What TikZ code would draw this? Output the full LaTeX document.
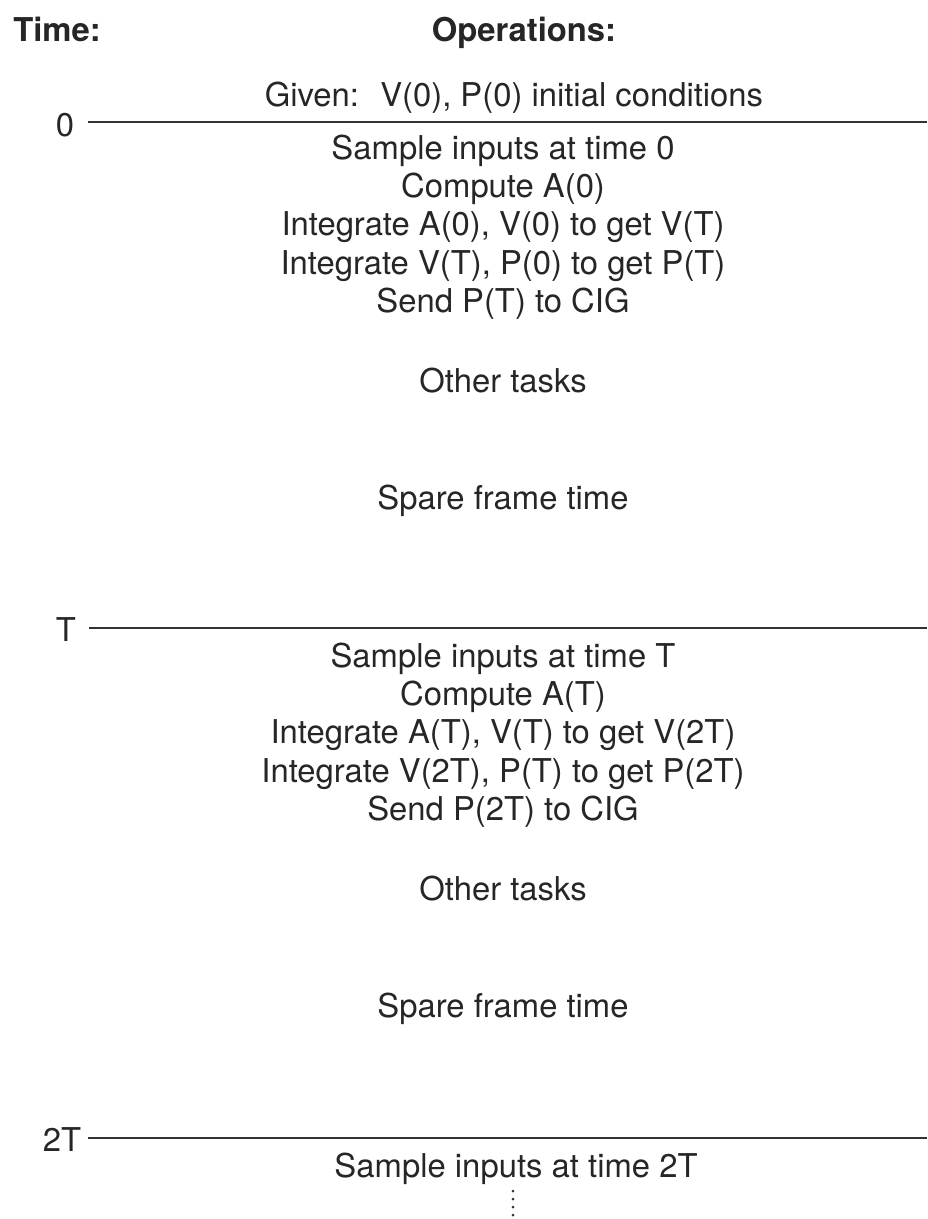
\documentclass[tikz,border=0pt]{standalone}
\usepackage{fontspec}
\setmainfont{TeX Gyre Heros}
\usetikzlibrary{positioning}

\begin{document}
\begin{tikzpicture}[
    x=0.5pt, y=-0.5pt,
    node distance=2.35pt,
    optext/.style={inner sep=0pt, text height=12.3pt, text depth=4.1pt, font=\fontsize{16.4}{19}\selectfont, text=black!85},
    head/.style={optext, font=\fontsize{16.4}{19}\selectfont\bfseries},
    tick/.style={optext},
    rule/.style={line width=1pt, draw=black!80},
    dotline/.style={line width=1.5pt, line cap=round, dash pattern=on 0pt off 4pt, draw=black!80},
  ]
  \useasboundingbox (0,0) rectangle (927,1219);
  % headings
  \node[head] (timehd) at (57,33) {Time:};
  \node[head] (ophd) at (524,33) {Operations:};
  \node[optext] (given) at (514,98) {Given:~ V(0), P(0) initial conditions};
  % time marks
  \node[tick] (t0) at (65,128) {0};
  \node[tick] (t1) at (66,633) {T};
  \node[tick] (t2) at (62,1143) {2T};
  \coordinate (r0a) at (88,122);  \coordinate (r0b) at (927,122);
  \coordinate (r1a) at (89,628);  \coordinate (r1b) at (927,628);
  \coordinate (r2a) at (88,1138); \coordinate (r2b) at (927,1138);
  \draw[rule] (r0a) -- (r0b);
  \draw[rule] (r1a) -- (r1b);
  \draw[rule] (r2a) -- (r2b);
  % first frame
  \node[optext] (smp0) at (503,151) {Sample inputs at time 0};
  \node[optext, below=of smp0] (cmp0) {Compute A(0)};
  \node[optext, below=of cmp0] (intv0) {Integrate A(0), V(0) to get V(T)};
  \node[optext, below=of intv0] (intp0) {Integrate V(T), P(0) to get P(T)};
  \node[optext, below=of intp0] (snd0) {Send P(T) to CIG};
  \node[optext, below=23.35pt of snd0] (oth0) {Other tasks};
  \node[optext, below=41.6pt of oth0] (spr0) {Spare frame time};
  % second frame
  \node[optext] (smp1) at (503,659) {Sample inputs at time T};
  \node[optext, below=of smp1] (cmp1) {Compute A(T)};
  \node[optext, below=of cmp1] (intv1) {Integrate A(T), V(T) to get V(2T)};
  \node[optext, below=of intv1] (intp1) {Integrate V(2T), P(T) to get P(2T)};
  \node[optext, below=of intp1] (snd1) {Send P(2T) to CIG};
  \node[optext, below=23.35pt of snd1] (oth1) {Other tasks};
  \node[optext, below=41.6pt of oth1] (spr1) {Spare frame time};
  % third frame
  \node[optext] (smp2) at (516,1169) {Sample inputs at time 2T};
  \coordinate (dtop) at (513,1191);
  \coordinate (dbot) at (513,1219);
  \draw[dotline] (dtop) -- (dbot);
\end{tikzpicture}
\end{document}
